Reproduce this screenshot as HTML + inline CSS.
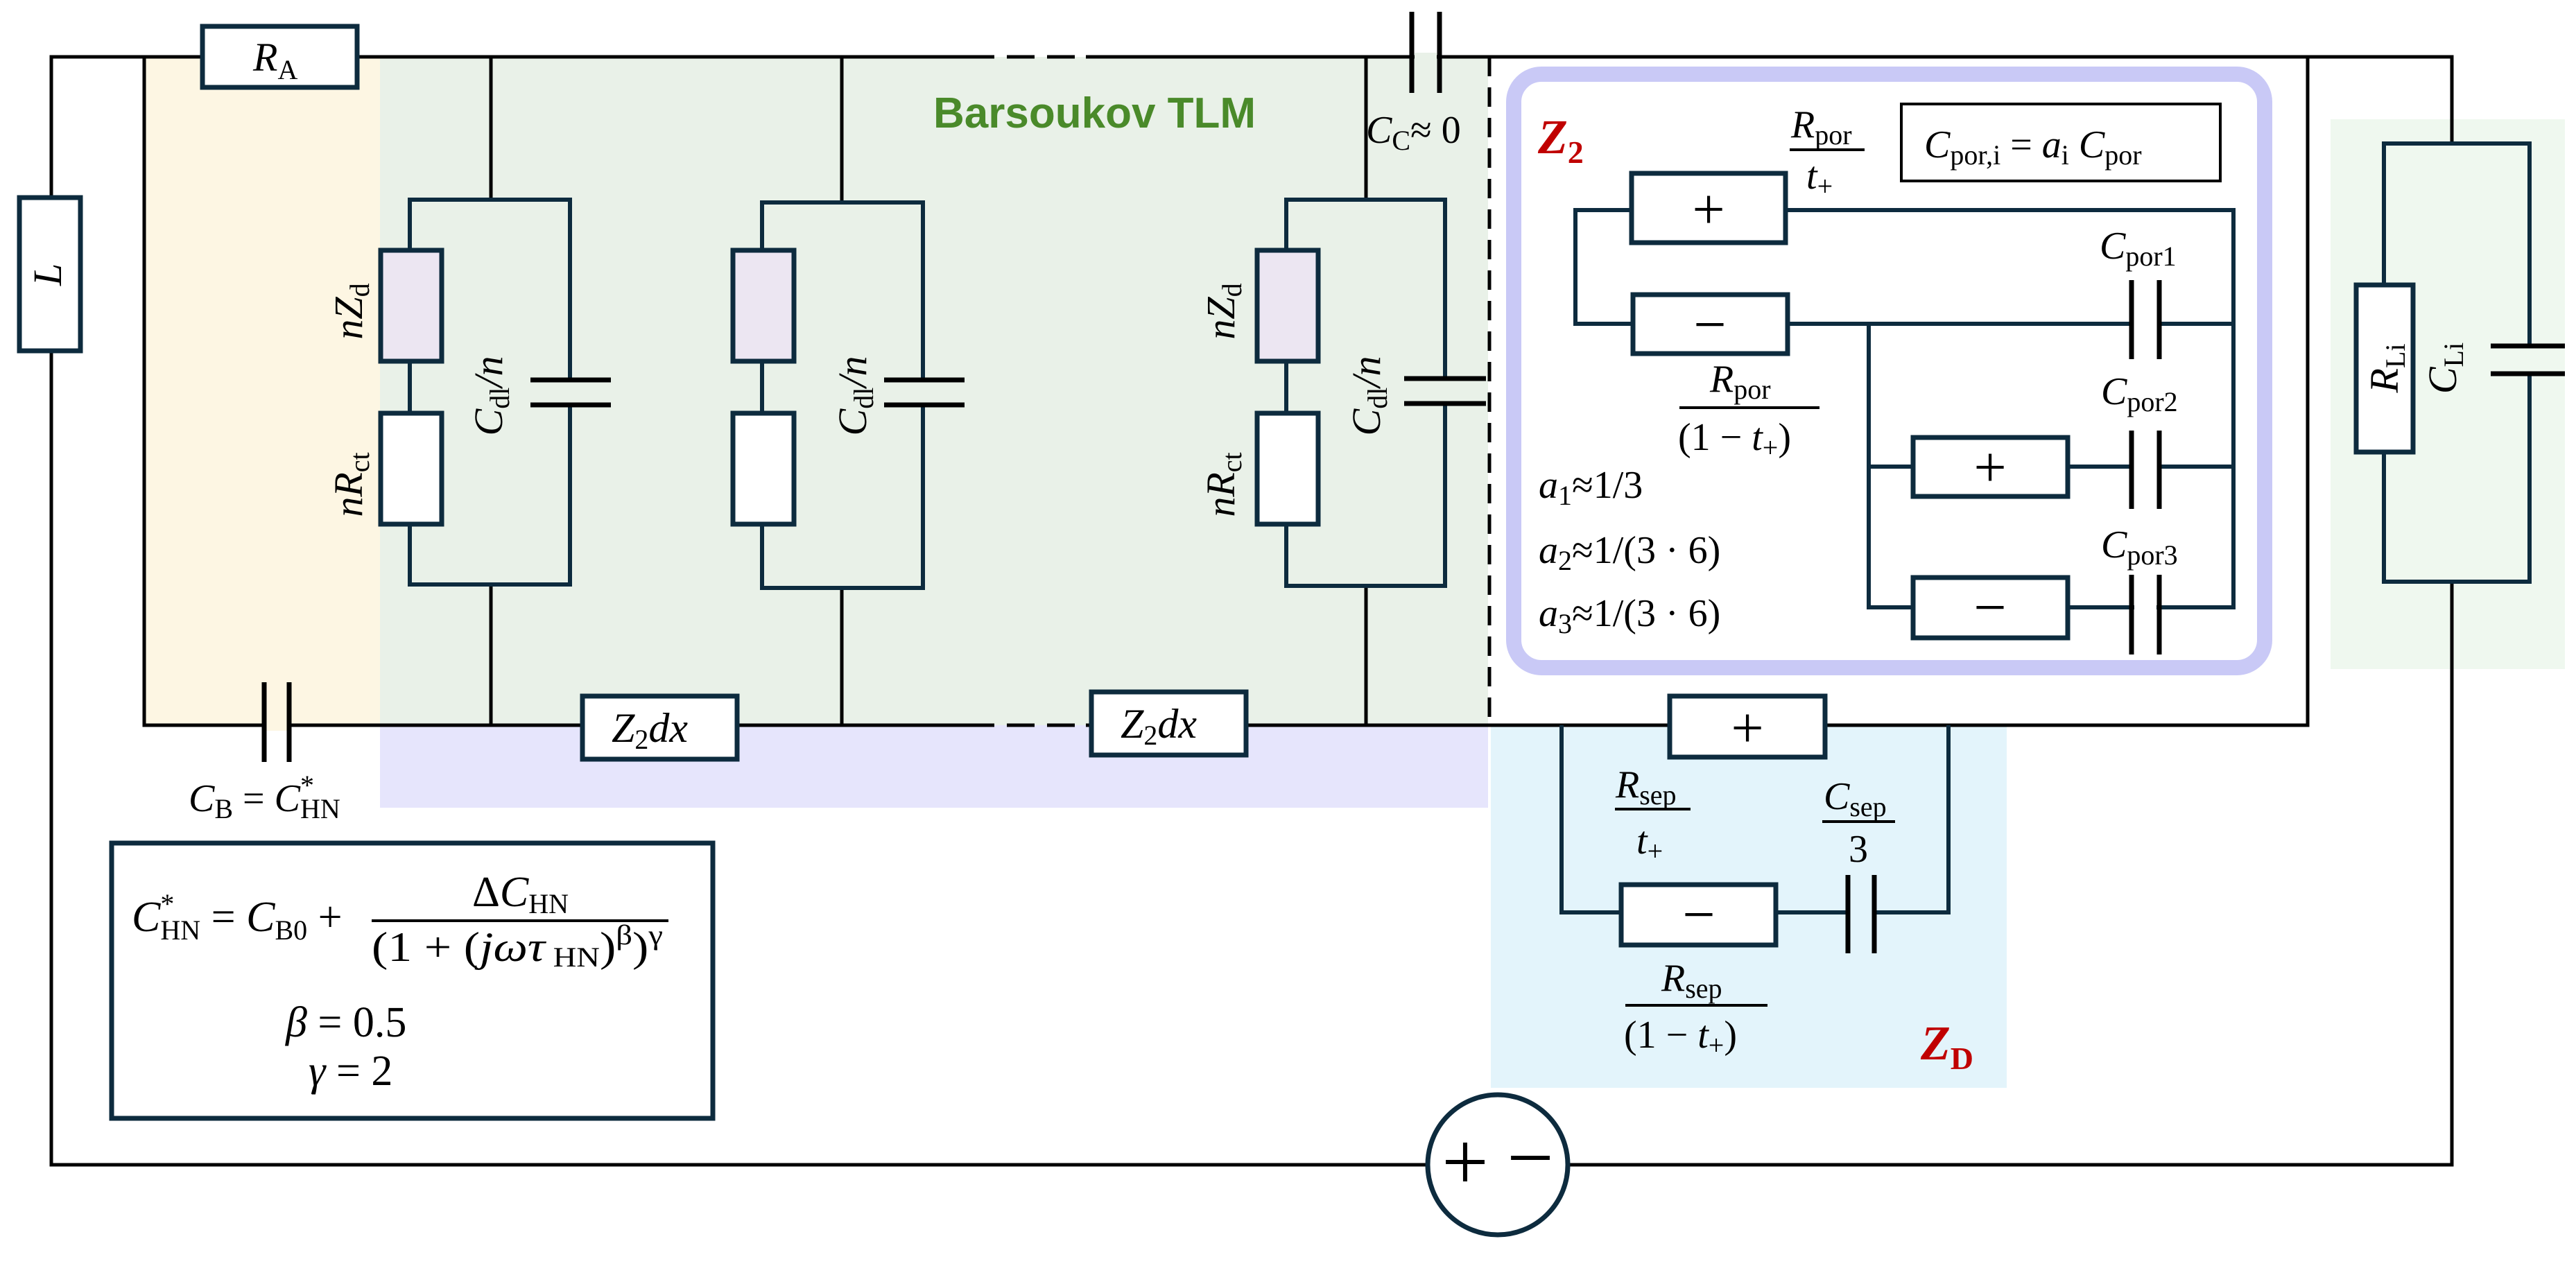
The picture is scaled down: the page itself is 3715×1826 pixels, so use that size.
<!DOCTYPE html>
<html><head><meta charset="utf-8"><style>
html,body{margin:0;padding:0;background:#fff}
svg{display:block}
text{font-family:"Liberation Serif",serif;fill:#000}
.i{font-style:italic}
.s{font-style:normal;font-size:40px}
.b{stroke:#0d2b3e;stroke-width:7;fill:#fff}
.w{stroke:#000;stroke-width:5;fill:none}
.n{stroke:#0d2b3e;stroke-width:6;fill:none}
.c{stroke:#000;stroke-width:7}
</style></head><body>
<svg width="3715" height="1826" viewBox="0 0 3715 1826" xmlns="http://www.w3.org/2000/svg">
<rect x="208" y="82" width="340" height="964" fill="#fdf6e3"/>
<rect x="548" y="82" width="1598" height="964" fill="#e9f1e8"/>
<rect x="548" y="1046" width="1598" height="119" fill="#e6e5fc"/>
<rect x="2150" y="1046" width="744" height="523" fill="#e3f4fb"/>
<rect x="3361" y="172" width="338" height="793" fill="#eff8ef"/>

<path class="w" d="M74,288 V82 H1394 M1566,82 H3536 V207 M3536,839 V1680 H2262 M2058,1680 H74 V506"/>
<path class="w" d="M1394,82 H1566" stroke-dasharray="40,18"/>
<path class="w" d="M292,82 H208 V1046 H380 M417,1046 H1394 M1566,1046 H3328 V82"/>
<path class="w" d="M1394,1046 H1566" stroke-dasharray="40,18"/>
<path class="w" d="M2148,82 V1046" stroke-dasharray="28,16"/>

<rect class="b" x="28" y="285" width="88" height="221"/>
<text class="i" font-size="58" transform="translate(88,396) rotate(-90)" text-anchor="middle">L</text>
<rect class="b" x="292" y="38" width="223" height="88"/>
<text class="i" x="365" y="102" font-size="58">R<tspan class="s" dy="12">A</tspan></text>

<line class="c" x1="2036" y1="17" x2="2036" y2="134"/><line class="c" x1="2076" y1="17" x2="2076" y2="134"/>
<rect x="2040" y="76" width="32" height="12" fill="#e9f1e8"/>
<text class="i" x="1970" y="206" font-size="56">C<tspan class="s" dy="10">C</tspan><tspan dy="-10" font-style="normal">≈ 0</tspan></text>

<rect x="383" y="1038" width="31" height="16" fill="#fdf6e3"/>
<line class="c" x1="381" y1="984" x2="381" y2="1099"/><line class="c" x1="417" y1="984" x2="417" y2="1099"/>
<text class="i" x="272" y="1170" font-size="56">C<tspan class="s" dy="10">B</tspan><tspan dy="-10" font-style="normal"> = </tspan>C<tspan class="s" dy="-24">*</tspan><tspan class="s" dx="-20" dy="34">HN</tspan></text>

<g>
<line class="w" x1="708" y1="82" x2="708" y2="288"/><line class="w" x1="708" y1="843" x2="708" y2="1046"/>
<rect class="n" x="591" y="288" width="231" height="555"/>
<rect x="765" y="548" width="116" height="34" fill="#e9f1e8"/>
<line class="c" x1="765" y1="548" x2="881" y2="548"/><line class="c" x1="765" y1="584" x2="881" y2="584"/>
<rect class="b" x="549" y="361" width="88" height="160" style="fill:#ece6f2"/>
<rect class="b" x="549" y="596" width="88" height="160"/>
<text class="i" font-size="58" transform="translate(522,449) rotate(-90)" text-anchor="middle">nZ<tspan class="s" dy="10">d</tspan></text>
<text class="i" font-size="58" transform="translate(522,699) rotate(-90)" text-anchor="middle">nR<tspan class="s" dy="10">ct</tspan></text>
<text class="i" font-size="58" transform="translate(724,571) rotate(-90)" text-anchor="middle">C<tspan class="s" dy="10">dl</tspan><tspan dy="-10">/n</tspan></text>
</g>
<g>
<line class="w" x1="1214" y1="82" x2="1214" y2="292"/><line class="w" x1="1214" y1="848" x2="1214" y2="1046"/>
<rect class="n" x="1099" y="292" width="232" height="556"/>
<rect x="1275" y="548" width="116" height="34" fill="#e9f1e8"/>
<line class="c" x1="1275" y1="548" x2="1391" y2="548"/><line class="c" x1="1275" y1="584" x2="1391" y2="584"/>
<rect class="b" x="1057" y="361" width="88" height="160" style="fill:#ece6f2"/>
<rect class="b" x="1057" y="596" width="88" height="160"/>
<text class="i" font-size="58" transform="translate(1249,571) rotate(-90)" text-anchor="middle">C<tspan class="s" dy="10">dl</tspan><tspan dy="-10">/n</tspan></text>
</g>
<g>
<line class="w" x1="1970" y1="82" x2="1970" y2="288"/><line class="w" x1="1970" y1="845" x2="1970" y2="1046"/>
<rect class="n" x="1855" y="288" width="229" height="557"/>
<rect x="2025" y="546" width="118" height="34" fill="#e9f1e8"/>
<line class="c" x1="2025" y1="546" x2="2143" y2="546"/><line class="c" x1="2025" y1="582" x2="2143" y2="582"/>
<rect class="b" x="1813" y="361" width="88" height="160" style="fill:#ece6f2"/>
<rect class="b" x="1813" y="596" width="88" height="160"/>
<text class="i" font-size="58" transform="translate(1780,449) rotate(-90)" text-anchor="middle">nZ<tspan class="s" dy="10">d</tspan></text>
<text class="i" font-size="58" transform="translate(1780,699) rotate(-90)" text-anchor="middle">nR<tspan class="s" dy="10">ct</tspan></text>
<text class="i" font-size="58" transform="translate(1990,571) rotate(-90)" text-anchor="middle">C<tspan class="s" dy="10">dl</tspan><tspan dy="-10">/n</tspan></text>
</g>
<rect class="b" x="840" y="1004" width="223" height="91"/>
<text class="i" x="882" y="1070" font-size="60">Z<tspan class="s" dy="10">2</tspan><tspan dy="-10">dx</tspan></text>
<rect class="b" x="1574" y="998" width="223" height="91"/>
<text class="i" x="1616" y="1064" font-size="60">Z<tspan class="s" dy="10">2</tspan><tspan dy="-10">dx</tspan></text>

<text x="1346" y="184" font-size="62" style="font-family:'Liberation Sans',sans-serif;font-weight:bold;fill:#4a8a2a">Barsoukov TLM</text>

<rect x="161" y="1216" width="867" height="397" fill="#fff" stroke="#0d2b3e" stroke-width="7"/>
<text class="i" x="190" y="1343" font-size="62">C<tspan class="s" dy="-26">*</tspan><tspan class="s" dx="-20" dy="38">HN</tspan><tspan font-style="normal" dy="-12"> = </tspan>C<tspan class="s" dy="12">B0</tspan><tspan font-style="normal" dy="-12">  +</tspan></text>
<line x1="536" y1="1328" x2="964" y2="1328" stroke="#000" stroke-width="4"/>
<text x="681" y="1307" font-size="62"><tspan>Δ</tspan><tspan class="i">C</tspan><tspan class="s" dy="10">HN</tspan></text>
<text x="536" y="1386" font-size="60" textLength="420" lengthAdjust="spacingAndGlyphs">(1 + (<tspan class="i">jωτ</tspan><tspan class="s" dy="8"> HN</tspan><tspan dy="-8">)</tspan><tspan class="s" dy="-24">β</tspan><tspan dy="24">)</tspan><tspan class="s" dy="-24">γ</tspan></text>
<text x="412" y="1495" font-size="62"><tspan class="i">β</tspan> = 0.5</text>
<text x="445" y="1565" font-size="62"><tspan class="i">γ</tspan> = 2</text>

<rect x="2183" y="107" width="1083" height="856" rx="40" fill="#fff" stroke="#c9c9f6" stroke-width="22"/>
<text x="2218" y="221" font-size="70" font-weight="bold" font-style="italic" style="fill:#c00000">Z<tspan font-size="46" dy="14" font-style="normal">2</tspan></text>
<text class="i" x="2583" y="198" font-size="56">R<tspan class="s" dy="10">por</tspan></text>
<line x1="2581" y1="216" x2="2689" y2="216" stroke="#000" stroke-width="4"/>
<text class="i" x="2605" y="272" font-size="56">t<tspan class="s" dy="10">+</tspan></text>
<rect x="2742" y="150" width="460" height="111" fill="#fff" stroke="#000" stroke-width="4"/>
<text class="i" x="2775" y="227" font-size="56">C<tspan class="s" dy="10">por,i</tspan><tspan font-style="normal" dy="-10"> = </tspan>a<tspan class="s" dy="10">i</tspan><tspan dy="-10"> C</tspan><tspan class="s" dy="10">por</tspan></text>

<path class="n" d="M2353,303 H2272 V467 H2355 M2575,303 H3221 V876 H2982 M2578,467 H3074 M3114,467 H3221 M2695,467 V876 H2759 M2695,673 H2759 M2982,673 H3074 M3114,673 H3221"/>
<line class="c" x1="3074" y1="404" x2="3074" y2="518"/><line class="c" x1="3114" y1="404" x2="3114" y2="518"/>
<line class="c" x1="3074" y1="621" x2="3074" y2="734"/><line class="c" x1="3114" y1="621" x2="3114" y2="734"/>
<line class="c" x1="3074" y1="829" x2="3074" y2="944"/><line class="c" x1="3114" y1="829" x2="3114" y2="944"/>
<rect x="3078" y="860" width="32" height="30" fill="#fff"/>
<rect class="b" x="2353" y="250" width="222" height="100"/>
<text x="2464" y="330" font-size="84" text-anchor="middle">+</text>
<rect class="b" x="2355" y="425" width="223" height="85"/>
<text x="2466" y="496" font-size="84" text-anchor="middle">−</text>
<rect class="b" x="2759" y="631" width="223" height="85"/>
<text x="2870" y="702" font-size="84" text-anchor="middle">+</text>
<rect class="b" x="2759" y="833" width="223" height="87"/>
<text x="2870" y="904" font-size="84" text-anchor="middle">−</text>
<text class="i" x="3028" y="373" font-size="56">C<tspan class="s" dy="10">por1</tspan></text>
<text class="i" x="3030" y="583" font-size="56">C<tspan class="s" dy="10">por2</tspan></text>
<text class="i" x="3030" y="804" font-size="56">C<tspan class="s" dy="10">por3</tspan></text>
<text class="i" x="2466" y="565" font-size="56">R<tspan class="s" dy="10">por</tspan></text>
<line x1="2422" y1="588" x2="2624" y2="588" stroke="#000" stroke-width="4"/>
<text x="2420" y="649" font-size="56">(1 − <tspan class="i">t</tspan><tspan class="s" dy="10">+</tspan><tspan dy="-10">)</tspan></text>
<text x="2219" y="718" font-size="56"><tspan class="i">a</tspan><tspan class="s" dy="10">1</tspan><tspan dy="-10">≈1/3</tspan></text>
<text x="2219" y="812" font-size="56"><tspan class="i">a</tspan><tspan class="s" dy="10">2</tspan><tspan dy="-10">≈1/(3 · 6)</tspan></text>
<text x="2219" y="903" font-size="56"><tspan class="i">a</tspan><tspan class="s" dy="10">3</tspan><tspan dy="-10">≈1/(3 · 6)</tspan></text>

<path class="n" d="M2252,1046 V1316 H2338 M2561,1316 H2665 M2703,1316 H2810 V1046"/>
<line class="c" x1="2665" y1="1262" x2="2665" y2="1375"/><line class="c" x1="2703" y1="1262" x2="2703" y2="1375"/>
<rect class="b" x="2408" y="1004" width="224" height="88"/>
<text x="2520" y="1078" font-size="84" text-anchor="middle">+</text>
<rect class="b" x="2338" y="1276" width="223" height="87"/>
<text x="2450" y="1347" font-size="84" text-anchor="middle">−</text>
<text class="i" x="2330" y="1150" font-size="56">R<tspan class="s" dy="10">sep</tspan></text>
<line x1="2329" y1="1167" x2="2438" y2="1167" stroke="#000" stroke-width="4"/>
<text class="i" x="2360" y="1231" font-size="56">t<tspan class="s" dy="10">+</tspan></text>
<text class="i" x="2630" y="1167" font-size="56">C<tspan class="s" dy="10">sep</tspan></text>
<line x1="2628" y1="1185" x2="2733" y2="1185" stroke="#000" stroke-width="4"/>
<text x="2666" y="1243" font-size="56">3</text>
<text class="i" x="2396" y="1429" font-size="56">R<tspan class="s" dy="10">sep</tspan></text>
<line x1="2344" y1="1450" x2="2549" y2="1450" stroke="#000" stroke-width="4"/>
<text x="2342" y="1511" font-size="56">(1 − <tspan class="i">t</tspan><tspan class="s" dy="10">+</tspan><tspan dy="-10">)</tspan></text>
<text x="2770" y="1528" font-size="70" font-weight="bold" font-style="italic" style="fill:#c00000">Z<tspan font-size="46" dy="14" font-style="normal">D</tspan></text>

<path class="n" d="M3438,411 V207 H3648 V499 M3648,539 V839 H3438 V652"/>
<line class="c" x1="3592" y1="499" x2="3699" y2="499"/><line class="c" x1="3592" y1="539" x2="3699" y2="539"/>
<rect class="b" x="3398" y="411" width="82" height="241"/>
<text class="i" font-size="58" transform="translate(3458,531) rotate(-90)" text-anchor="middle">R<tspan class="s" dy="10">Li</tspan></text>
<text class="i" font-size="58" transform="translate(3542,531) rotate(-90)" text-anchor="middle">C<tspan class="s" dy="10">Li</tspan></text>

<circle cx="2160" cy="1680" r="101" fill="#fff" stroke="#0d2b3e" stroke-width="7"/>
<text x="2113" y="1716" font-size="120" text-anchor="middle">+</text>
<text x="2207" y="1710" font-size="120" text-anchor="middle">−</text>
</svg>
</body></html>
